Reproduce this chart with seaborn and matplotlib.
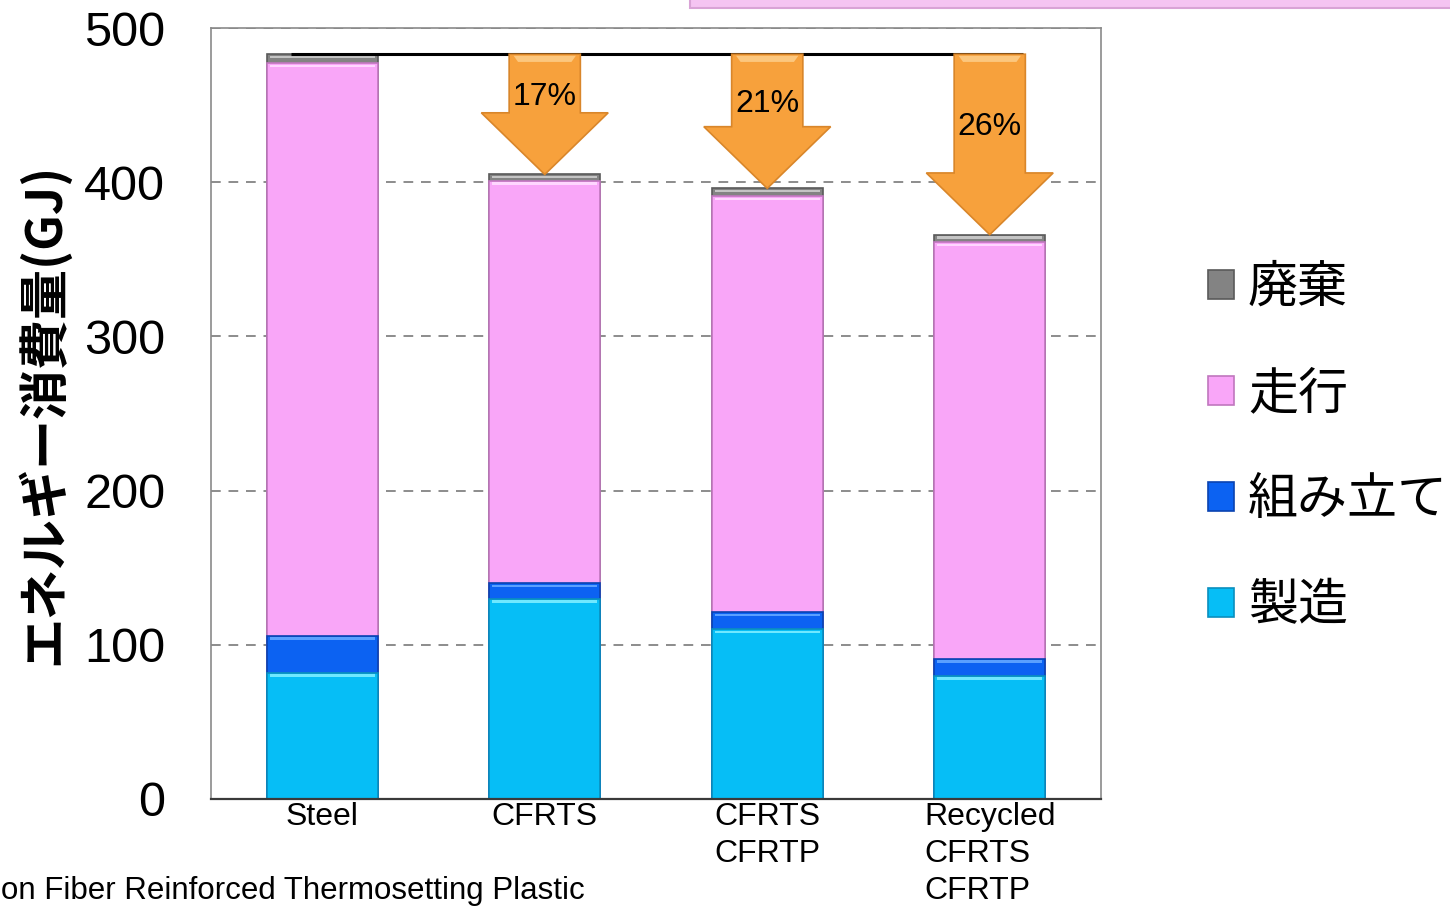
import matplotlib
matplotlib.use("Agg")
import matplotlib.pyplot as plt
from matplotlib.patches import Polygon, Rectangle, Patch
import numpy as np
import pandas as pd
import seaborn as sns

# ---- data -------------------------------------------------------------
categories = ["Steel", "CFRTS", "CFRTS\nCFRTP", "Recycled\nCFRTS\nCFRTP"]
manufacturing = [82, 130, 110, 80]    # 製造
assembly = [24, 10, 11, 11]           # 組み立て
driving = [371, 261, 270, 270]        # 走行
disposal = [6, 4, 5, 5]               # 廃棄
reduction_labels = ["17%", "21%", "26%"]
y_ticks = [0, 100, 200, 300, 400, 500]

stage_names = ["製造", "組み立て", "走行", "廃棄"]
stage_colors = ["#06BEF6", "#0C62F2", "#F9A6F8", "#838383"]
stage_edges = ["#0A8FBE", "#0A43B0", "#C077BE", "#5A5A5A"]
stage_lights = ["#6FE8FF", "#5AA0FF", "#FFD6FF", "#C4C4C4"]

sns.set_theme(style="white")
plt.rcParams["font.family"] = ["Liberation Sans", "Noto Sans CJK JP", "DejaVu Sans"]
plt.rcParams["text.color"] = "black"
plt.rcParams["axes.labelcolor"] = "black"
plt.rcParams["xtick.color"] = "black"
plt.rcParams["ytick.color"] = "black"
CJK = ["Noto Sans CJK JP", "DejaVu Sans"]

W, H = 1450, 907
fig = plt.figure(figsize=(W / 100, H / 100), dpi=100)
ax = fig.add_axes([211 / W, 1 - 799 / H, (1101 - 211) / W, (799 - 28) / H])

df = pd.DataFrame({
    "cat": categories,
    "製造": manufacturing,
    "組み立て": assembly,
    "走行": driving,
    "廃棄": disposal,
})
layers = df[stage_names].cumsum(axis=1)

# stacked bars: draw cumulative heights from the top layer down
for i in reversed(range(len(stage_names))):
    name = stage_names[i]
    sns.barplot(x=df["cat"], y=layers[name], color=stage_colors[i],
                saturation=1, width=0.5, edgecolor=stage_edges[i],
                linewidth=1.2, ax=ax, zorder=2)

# bevel highlights along the top of each segment
xs = np.arange(len(categories))
for i, name in enumerate(stage_names):
    tops = layers[name].values
    ax.bar(xs, 1.6, bottom=tops - 2.6, width=0.47, color=stage_lights[i],
           linewidth=0, zorder=3)

totals = layers["廃棄"].values
ref_total = totals[0]

# reference line at the steel total
ax.plot([-0.14, 3.15], [ref_total, ref_total], color="black", lw=2.2,
        zorder=4, solid_capstyle="butt")

# reduction arrows
shaft_hw, head_hw, head_len = 0.16, 0.285, 40
for k, label in enumerate(reduction_labels):
    c = xs[k + 1]
    tip = totals[k + 1]
    base = tip + head_len
    pts = [(c - shaft_hw, ref_total), (c + shaft_hw, ref_total),
           (c + shaft_hw, base), (c + head_hw, base), (c, tip),
           (c - head_hw, base), (c - shaft_hw, base)]
    ax.add_patch(Polygon(pts, closed=True, facecolor="#F7A13C",
                         edgecolor="#D9862A", lw=1.2, zorder=5))
    ax.add_patch(Polygon([(c - shaft_hw + 0.02, ref_total - 1),
                          (c + shaft_hw - 0.02, ref_total - 1),
                          (c + shaft_hw - 0.04, ref_total - 5),
                          (c - shaft_hw + 0.04, ref_total - 5)],
                         closed=True, facecolor="#FCC77E", lw=0, zorder=6))
    ty = (base + ref_total) / 2 - 9
    ax.text(c, ty, label, ha="center", va="center", fontsize=23,
            color="black", zorder=7)

# axes styling
ax.set_xlim(-0.5, 3.5)
ax.set_ylim(0, 500)
ax.set_yticks(y_ticks)
ax.set_yticklabels([str(v) for v in y_ticks], fontsize=35)
ax.set_xticks(xs)
ax.set_xticklabels(categories, fontsize=23, linespacing=1.3,
                   multialignment="left")
ax.tick_params(axis="x", length=0, pad=2)
ax.tick_params(axis="y", direction="in", length=6, width=1, color="#808080",
               pad=33)
ax.set_xlabel("")
ax.set_ylabel("エネルギー消費量(GJ)", fontsize=36, fontweight="bold",
              family=CJK, labelpad=10)
ax.yaxis.grid(True, linestyle=(0, (5, 4)), color="#8C8C8C", lw=1.4)
ax.xaxis.grid(False)
ax.set_axisbelow(True)
for side in ["top", "right", "left"]:
    ax.spines[side].set_color("#8A8A8A")
    ax.spines[side].set_linewidth(1.2)
ax.spines["bottom"].set_color("#3A3A3A")
ax.spines["bottom"].set_linewidth(1.6)

# legend (top entry = top of the stack)
handles = [Patch(facecolor=stage_colors[i], edgecolor=stage_edges[i], lw=1.2,
                 label=stage_names[i]) for i in reversed(range(4))]
leg = fig.legend(handles=handles, loc="upper left",
                 bbox_to_anchor=(1208 / W, 1 - 262 / H), frameon=False,
                 prop={"family": CJK, "size": 36}, handlelength=0.52,
                 handleheight=0.52, handletextpad=0.28, labelspacing=1.08,
                 borderpad=0, borderaxespad=0)

# callout box peeking in at the top edge
fig.patches.append(Rectangle((694 / W, 1 - 4 / H), (1460 - 694) / W, 30 / H,
                             transform=fig.transFigure, facecolor="#9A9A9A",
                             alpha=0.45, lw=0, zorder=0))
fig.patches.append(Rectangle((690 / W, 1 - 8 / H), (1460 - 690) / W, 30 / H,
                             transform=fig.transFigure, facecolor="#F5C4F2",
                             edgecolor="#D9A3D6", lw=1.5, zorder=1))

# footnote along the bottom-left edge
fig.text(1 / W, 1 - 891 / H, "on Fiber Reinforced Thermosetting Plastic",
         ha="left", va="center", fontsize=22.5)

fig.savefig("out.png", dpi=100)
